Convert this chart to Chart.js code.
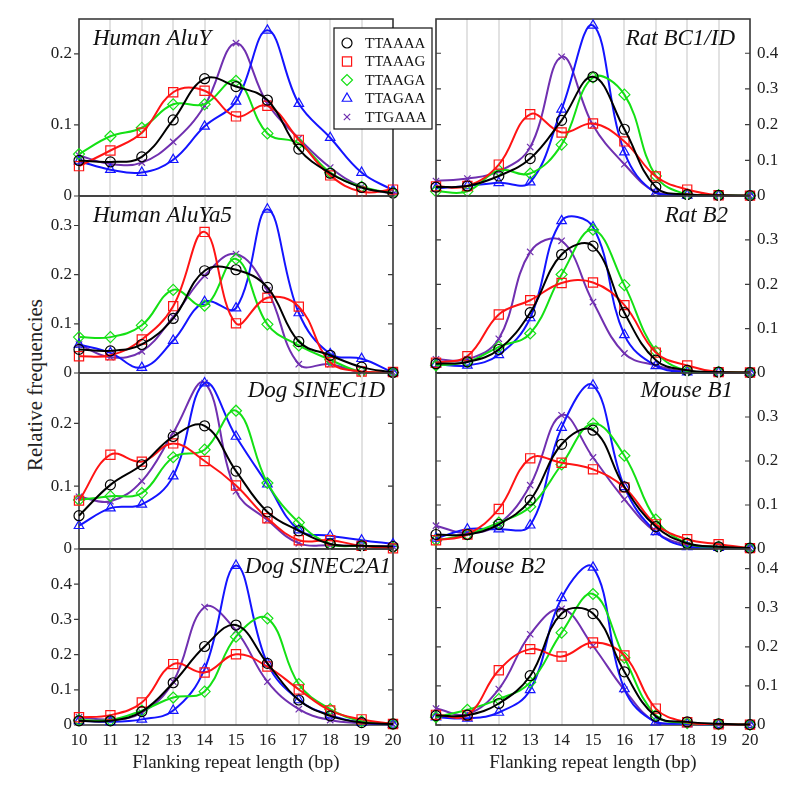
<!DOCTYPE html>
<html>
<head>
<meta charset="utf-8">
<script src="https://cdn.jsdelivr.net/npm/chart.js@4.4.1/dist/chart.umd.min.js"></script>
<style>
html, body { margin: 0; padding: 0; background: #fff; }
#fig { position: relative; width: 800px; height: 791px; overflow: hidden; }
#fig canvas { position: absolute; }
#ytitle {
    position: absolute; left: 35px; top: 385px;
    transform: translate(-50%, -50%) rotate(-90deg);
    font: 21px "Liberation Serif", serif; color: #222; white-space: nowrap;
}
</style>
</head>
<body>
<div id="fig"><div id="ytitle">Relative frequencies</div></div>
<script>
// x values (flanking repeat length, bp)
var lengths = [10, 11, 12, 13, 14, 15, 16, 17, 18, 19, 20];
var motifs = ['TTAAAA', 'TTAAAG', 'TTAAGA', 'TTAGAA', 'TTGAAA'];

// each panel: one row per motif, in the order of `motifs`
var humanAluY = [
    [0.050, 0.048, 0.055, 0.107, 0.165, 0.154, 0.135, 0.066, 0.032, 0.012, 0.004],
    [0.042, 0.064, 0.089, 0.146, 0.148, 0.112, 0.127, 0.079, 0.029, 0.006, 0.009],
    [0.059, 0.084, 0.096, 0.129, 0.129, 0.162, 0.088, 0.074, 0.033, 0.013, 0.004],
    [0.049, 0.037, 0.033, 0.051, 0.098, 0.133, 0.233, 0.130, 0.082, 0.033, 0.008],
    [0.057, 0.045, 0.047, 0.076, 0.127, 0.215, 0.130, 0.081, 0.040, 0.013, 0.003]
];
var ratBC1ID = [
    [0.025, 0.028, 0.056, 0.105, 0.212, 0.334, 0.187, 0.025, 0.004, 0.002, 0.001],
    [0.027, 0.028, 0.088, 0.229, 0.178, 0.203, 0.153, 0.055, 0.018, 0.002, 0.001],
    [0.013, 0.013, 0.072, 0.063, 0.144, 0.332, 0.284, 0.056, 0.004, 0.002, 0.001],
    [0.021, 0.028, 0.037, 0.039, 0.243, 0.478, 0.123, 0.008, 0.002, 0.001, 0.001],
    [0.042, 0.049, 0.069, 0.137, 0.390, 0.198, 0.089, 0.011, 0.004, 0.001, 0.001]
];
var humanAluYa5 = [
    [0.048, 0.045, 0.058, 0.111, 0.208, 0.210, 0.174, 0.064, 0.036, 0.012, 0.001],
    [0.034, 0.036, 0.068, 0.136, 0.287, 0.101, 0.153, 0.135, 0.022, 0.003, 0.002],
    [0.073, 0.073, 0.097, 0.169, 0.137, 0.232, 0.099, 0.056, 0.027, 0.002, 0.001],
    [0.058, 0.041, 0.011, 0.066, 0.145, 0.132, 0.333, 0.122, 0.039, 0.029, 0.001],
    [0.058, 0.032, 0.044, 0.114, 0.198, 0.242, 0.168, 0.018, 0.018, 0.001, 0.001]
];
var ratB2 = [
    [0.021, 0.025, 0.053, 0.136, 0.267, 0.286, 0.136, 0.029, 0.006, 0.002, 0.001],
    [0.023, 0.038, 0.132, 0.164, 0.203, 0.204, 0.153, 0.046, 0.017, 0.002, 0.001],
    [0.017, 0.025, 0.059, 0.089, 0.222, 0.323, 0.198, 0.049, 0.004, 0.002, 0.001],
    [0.020, 0.017, 0.041, 0.124, 0.343, 0.329, 0.086, 0.016, 0.002, 0.001, 0.001],
    [0.031, 0.031, 0.077, 0.273, 0.298, 0.160, 0.044, 0.017, 0.002, 0.001, 0.001]
];
var dogSINEC1D = [
    [0.053, 0.102, 0.134, 0.179, 0.196, 0.124, 0.059, 0.029, 0.008, 0.005, 0.004],
    [0.077, 0.150, 0.139, 0.168, 0.140, 0.101, 0.049, 0.014, 0.014, 0.005, 0.001],
    [0.078, 0.084, 0.089, 0.146, 0.158, 0.220, 0.105, 0.042, 0.008, 0.005, 0.002],
    [0.037, 0.065, 0.071, 0.116, 0.264, 0.179, 0.103, 0.030, 0.021, 0.014, 0.008],
    [0.083, 0.076, 0.108, 0.185, 0.264, 0.092, 0.046, 0.009, 0.006, 0.005, 0.004]
];
var mouseB1 = [
    [0.033, 0.033, 0.056, 0.111, 0.238, 0.270, 0.141, 0.051, 0.013, 0.005, 0.002],
    [0.020, 0.033, 0.091, 0.206, 0.196, 0.181, 0.140, 0.056, 0.022, 0.011, 0.002],
    [0.020, 0.033, 0.060, 0.096, 0.192, 0.285, 0.212, 0.067, 0.013, 0.005, 0.002],
    [0.024, 0.045, 0.045, 0.054, 0.276, 0.372, 0.141, 0.039, 0.005, 0.003, 0.002],
    [0.053, 0.036, 0.057, 0.145, 0.304, 0.208, 0.113, 0.038, 0.009, 0.003, 0.002]
];
var dogSINEC2A1 = [
    [0.012, 0.012, 0.038, 0.120, 0.223, 0.284, 0.175, 0.071, 0.026, 0.007, 0.003],
    [0.022, 0.028, 0.064, 0.173, 0.149, 0.201, 0.166, 0.101, 0.041, 0.016, 0.003],
    [0.014, 0.014, 0.041, 0.078, 0.095, 0.251, 0.303, 0.116, 0.045, 0.011, 0.003],
    [0.012, 0.009, 0.016, 0.041, 0.159, 0.453, 0.175, 0.071, 0.028, 0.007, 0.002],
    [0.022, 0.016, 0.035, 0.123, 0.335, 0.268, 0.123, 0.045, 0.014, 0.005, 0.002]
];
var mouseB2 = [
    [0.024, 0.025, 0.055, 0.126, 0.285, 0.285, 0.136, 0.022, 0.008, 0.003, 0.001],
    [0.026, 0.025, 0.140, 0.194, 0.175, 0.211, 0.178, 0.042, 0.007, 0.002, 0.001],
    [0.020, 0.039, 0.066, 0.109, 0.236, 0.335, 0.172, 0.025, 0.005, 0.002, 0.001],
    [0.020, 0.017, 0.032, 0.090, 0.325, 0.403, 0.092, 0.007, 0.003, 0.001, 0.001],
    [0.042, 0.028, 0.092, 0.232, 0.297, 0.202, 0.090, 0.007, 0.003, 0.001, 0.001]
];

var panelNames = ['Human AluY', 'Rat BC1/ID', 'Human AluYa5', 'Rat B2',
                  'Dog SINEC1D', 'Mouse B1', 'Dog SINEC2A1', 'Mouse B2'];
var panelData = [humanAluY, ratBC1ID, humanAluYa5, ratB2,
                 dogSINEC1D, mouseB1, dogSINEC2A1, mouseB2];
var panelYTicks = [
    [0, 0.1, 0.2], [0, 0.1, 0.2, 0.3, 0.4],
    [0, 0.1, 0.2, 0.3], [0, 0.1, 0.2, 0.3],
    [0, 0.1, 0.2], [0, 0.1, 0.2, 0.3],
    [0, 0.1, 0.2, 0.3, 0.4], [0, 0.1, 0.2, 0.3, 0.4]
];
var panelYMax = [0.249, 0.496, 0.36, 0.399, 0.28, 0.40, 0.50, 0.45];

// styles / layout
var motifColors = ['#000000', '#ff1414', '#14e014', '#1414ff', '#7030b0'];
var motifMarkers = ['circle', 'rect', 'rectRot', 'triangle', 'crossRot'];
var markerRadius = [5, 6.5, 5.5, 5.5, 4.5];
var labelPos = [
    {side: 'left', dx: 14, dy: 26}, {side: 'right', dx: 15, dy: 26},
    {side: 'left', dx: 14, dy: 26}, {side: 'right', dx: 22, dy: 26},
    {side: 'right', dx: 8, dy: 24}, {side: 'right', dx: 17, dy: 24},
    {side: 'right', dx: 2, dy: 24}, {side: 'left', dx: 17, dy: 24}
];
var colLeft = [79, 436], colRight = [393, 750];
var rowTops = [19, 196, 373, 549, 725];
var PAD = 22, AXIS_W = 50, GAP_R = 45;
var serif = '"Liberation Serif", "Times New Roman", serif';

var framePlugin = {
    id: 'frame',
    beforeDatasetsDraw: function(chart) {
        var ctx = chart.ctx, a = chart.chartArea, ys = chart.scales.y;
        var onRight = ys.position === 'right';
        ctx.save();
        ctx.strokeStyle = '#3c3c3c';
        ctx.lineWidth = 1.6;
        ctx.strokeRect(a.left, a.top, a.right - a.left, a.bottom - a.top);
        ctx.lineWidth = 1.2;
        ys.ticks.forEach(function(t) {
            var y = ys.getPixelForValue(t.value);
            ctx.beginPath();
            if (onRight) {
                ctx.moveTo(a.left, y); ctx.lineTo(a.left + 5, y);
            } else {
                ctx.moveTo(a.left - 5, y); ctx.lineTo(a.left, y);
            }
            ctx.moveTo(a.right - 5, y); ctx.lineTo(a.right, y);
            ctx.stroke();
        });
        ctx.restore();
    }
};

var panelLabel = {
    id: 'panelLabel',
    afterDatasetsDraw: function(chart, args, opts) {
        var ctx = chart.ctx, a = chart.chartArea;
        ctx.save();
        ctx.font = 'italic 23px ' + serif;
        ctx.fillStyle = '#111';
        ctx.textBaseline = 'alphabetic';
        if (opts.side === 'left') {
            ctx.textAlign = 'left';
            ctx.fillText(opts.text, a.left + opts.dx, a.top + opts.dy);
        } else {
            ctx.textAlign = 'right';
            ctx.fillText(opts.text, a.right - opts.dx, a.top + opts.dy);
        }
        ctx.restore();
    }
};

var legendBox = {
    id: 'legendBox',
    afterDraw: function(chart, args, opts) {
        if (!opts.show) return;
        var ctx = chart.ctx, a = chart.chartArea;
        var x = a.left + 255, y = a.top + 9, w = 98, h = 101;
        ctx.save();
        ctx.fillStyle = '#fff';
        ctx.fillRect(x, y, w, h);
        ctx.strokeStyle = '#111';
        ctx.lineWidth = 1.2;
        ctx.strokeRect(x, y, w, h);
        chart.data.datasets.forEach(function(ds, k) {
            var cy = y + 15 + k * 18.5;
            ctx.strokeStyle = ds.borderColor;
            ctx.fillStyle = 'rgba(0,0,0,0)';
            ctx.lineWidth = 1.2;
            Chart.helpers.drawPoint(ctx, {pointStyle: ds.pointStyle, radius: ds.pointRadius,
                rotation: 0, borderWidth: 1.2}, x + 13, cy);
            ctx.fillStyle = '#111';
            ctx.font = '15px ' + serif;
            ctx.textAlign = 'left';
            ctx.textBaseline = 'middle';
            ctx.fillText(ds.label, x + 31, cy + 1);
        });
        ctx.restore();
    }
};

var fig = document.getElementById('fig');

panelData.forEach(function(rows, i) {
    var col = i % 2, row = Math.floor(i / 2);
    var L = colLeft[col], R = colRight[col];
    var T = rowTops[row], B = rowTops[row + 1];
    var bottomRow = row === 3;
    var xH = bottomRow ? (791 - B) : PAD;
    var cLeft, cWidth, padding;
    if (col === 0) {
        cLeft = L - AXIS_W; cWidth = AXIS_W + (R - L) + GAP_R;
        padding = {top: PAD, left: 0, right: GAP_R, bottom: 0};
    } else {
        cLeft = L - PAD; cWidth = PAD + (R - L) + AXIS_W;
        padding = {top: PAD, left: PAD, right: 0, bottom: 0};
    }
    var cv = document.createElement('canvas');
    cv.width = cWidth;
    cv.height = PAD + (B - T) + xH;
    cv.style.left = cLeft + 'px';
    cv.style.top = (T - PAD) + 'px';
    cv.style.width = cWidth + 'px';
    cv.style.height = cv.height + 'px';
    fig.appendChild(cv);

    var datasets = rows.map(function(vals, k) {
        return {
            label: motifs[k],
            data: lengths.map(function(x, j) { return {x: x, y: vals[j]}; }),
            borderColor: motifColors[k],
            backgroundColor: 'rgba(0,0,0,0)',
            borderWidth: 2,
            pointStyle: motifMarkers[k],
            pointRadius: markerRadius[k],
            pointBorderWidth: 1.2,
            pointBorderColor: motifColors[k],
            pointBackgroundColor: 'rgba(0,0,0,0)',
            tension: 0.4,
            fill: false,
            clip: false
        };
    });

    new Chart(cv, {
        type: 'line',
        data: {datasets: datasets},
        plugins: [framePlugin, panelLabel, legendBox],
        options: {
            responsive: false,
            animation: false,
            devicePixelRatio: 1,
            layout: {padding: padding},
            plugins: {
                legend: {display: false},
                tooltip: {enabled: false},
                panelLabel: {text: panelNames[i], side: labelPos[i].side, dx: labelPos[i].dx, dy: labelPos[i].dy},
                legendBox: {show: i === 0}
            },
            scales: {
                x: {
                    type: 'linear', min: 10, max: 20,
                    afterBuildTicks: function(s) { s.ticks = lengths.map(function(v) { return {value: v}; }); },
                    afterFit: function(s) { s.height = xH; },
                    grid: {color: '#e2e2e2', lineWidth: 2, drawTicks: false},
                    border: {display: false},
                    ticks: {display: bottomRow, autoSkip: false, maxRotation: 0, padding: 5,
                            color: '#222', font: {family: serif, size: 17}},
                    title: {display: bottomRow, text: 'Flanking repeat length (bp)', color: '#222',
                            font: {family: serif, size: 19}, padding: {top: 4, bottom: 17}}
                },
                y: {
                    position: col === 0 ? 'left' : 'right',
                    min: 0, max: panelYMax[i],
                    afterBuildTicks: function(s) { s.ticks = panelYTicks[i].map(function(v) { return {value: v}; }); },
                    afterFit: function(s) { s.width = AXIS_W; },
                    grid: {display: false, drawTicks: false},
                    border: {display: false},
                    ticks: {padding: 7, color: '#222', font: {family: serif, size: 17},
                            callback: function(v) { return v === 0 ? '0' : String(v); }}
                }
            }
        }
    });
});
</script>
</body>
</html>
